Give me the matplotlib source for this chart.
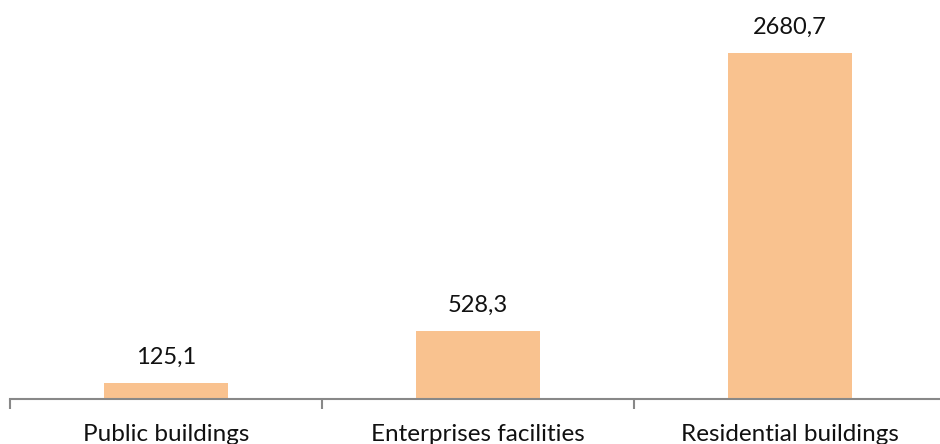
import numpy as np
import matplotlib.pyplot as plt

# Data
categories = ['Public buildings', 'Enterprises facilities', 'Residential buildings']
values = [125.1, 528.3, 2680.7]
labels = ['125,1', '528,3', '2680,7']

plt.rcParams['font.family'] = ['Lato', 'DejaVu Sans']

fig = plt.figure(figsize=(9.4, 4.44), dpi=100)
ax = fig.add_axes([10 / 940, 45 / 444, 936 / 940, 399 / 444])

x = np.arange(len(categories))
ax.bar(x, values, width=0.4, color='#F9C28F')

for xi, v, lab in zip(x, values, labels):
    ax.annotate(lab, (xi, v), xytext=(0, 11), textcoords='offset points',
                ha='center', va='bottom', fontsize=17, color='#111111')

ax.set_xlim(-0.5, 2.5)
ax.set_ylim(0, 399 / 346 * 2680.7)

# category separators as ticks
ax.set_xticks(x)
ax.set_xticklabels(categories, fontsize=17.5, color='#111111')
ax.tick_params(axis='x', which='major', length=0, pad=18)
ax.set_xticks([-0.5, 0.5, 1.5, 2.5], minor=True)
ax.tick_params(axis='x', which='minor', length=7, width=1.5, color='#888888')
ax.set_yticks([])

for s in ['top', 'right', 'left']:
    ax.spines[s].set_visible(False)
ax.spines['bottom'].set_color('#888888')
ax.spines['bottom'].set_linewidth(1.5)

fig.savefig('out.png', dpi=100)
